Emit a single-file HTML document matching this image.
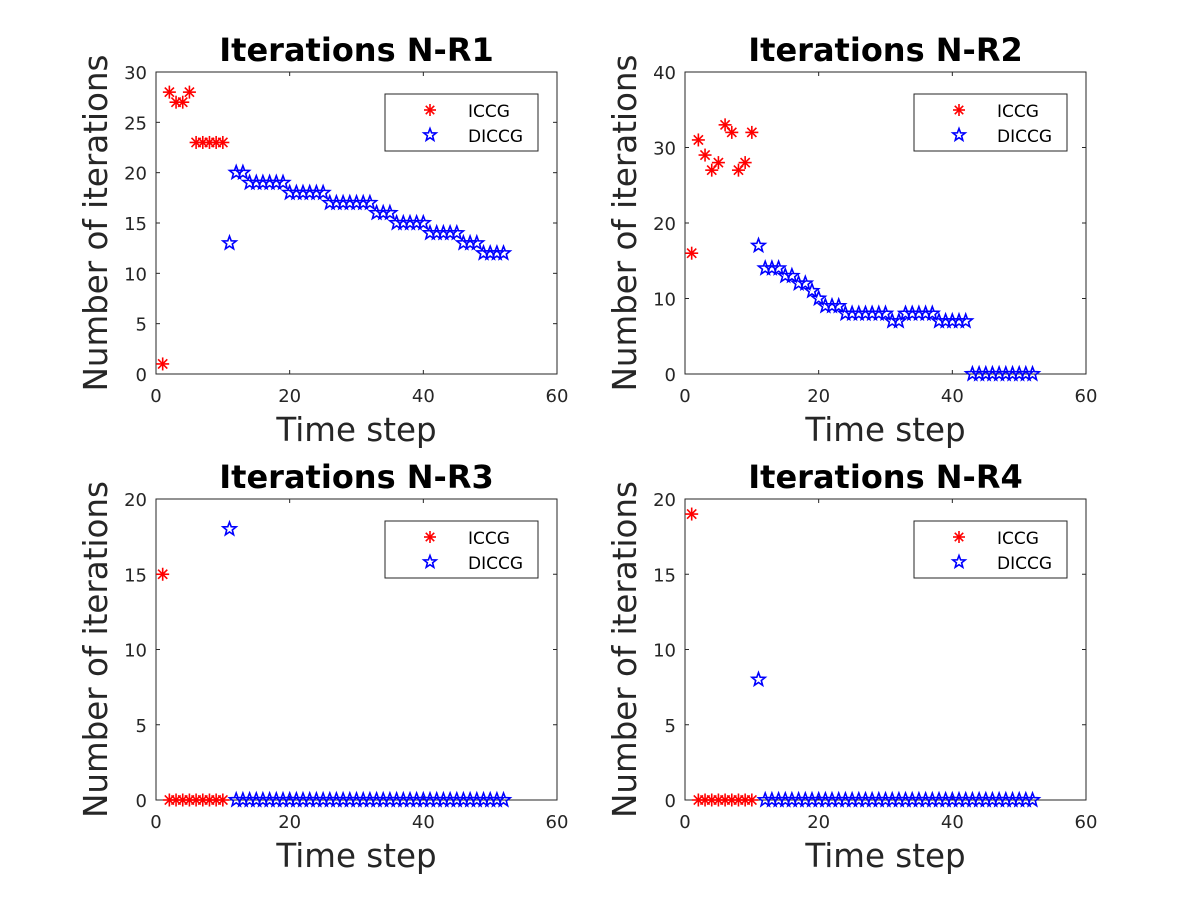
<!DOCTYPE html>
<html><head><meta charset="utf-8"><style>
body{margin:0;background:#fff}
svg{display:block;font-family:"DejaVu Sans","Liberation Sans",sans-serif}
</style></head><body>
<svg id="fig" width="1200" height="900" viewBox="0 0 1200 900"></svg>
<script>
const iccg1=[1,28,27,27,28,23,23,23,23,23];
const diccg1=[13,20,20,19,19,19,19,19,19,18,18,18,18,18,18,17,17,17,17,17,17,17,16,16,16,15,15,15,15,15,14,14,14,14,14,13,13,13,12,12,12,12];
const iccg2=[16,31,29,27,28,33,32,27,28,32];
const diccg2=[17,14,14,14,13,13,12,12,11,10,9,9,9,8,8,8,8,8,8,8,7,7,8,8,8,8,8,7,7,7,7,7,0,0,0,0,0,0,0,0,0,0];
const iccg3=[15,0,0,0,0,0,0,0,0,0];
const diccg3=[18,0,0,0,0,0,0,0,0,0,0,0,0,0,0,0,0,0,0,0,0,0,0,0,0,0,0,0,0,0,0,0,0,0,0,0,0,0,0,0,0,0];
const iccg4=[19,0,0,0,0,0,0,0,0,0];
const diccg4=[8,0,0,0,0,0,0,0,0,0,0,0,0,0,0,0,0,0,0,0,0,0,0,0,0,0,0,0,0,0,0,0,0,0,0,0,0,0,0,0,0,0];
const xTicks=[0,20,40,60];
const yTicks1=[0,5,10,15,20,25,30];
const yTicks2=[0,10,20,30,40];
const yTicks3=[0,5,10,15,20];
const titles=["Iterations N-R1","Iterations N-R2","Iterations N-R3","Iterations N-R4"];

const NS="http://www.w3.org/2000/svg";
const svg=document.getElementById('fig');
function mk(tag,attrs,parent){const e=document.createElementNS(NS,tag);for(const k in attrs)e.setAttribute(k,attrs[k]);(parent||svg).appendChild(e);return e;}
function star(cx,cy,r,g){let p=[];for(let i=0;i<10;i++){const a=-Math.PI/2+i*Math.PI/5;const rr=i%2?r*0.42:r;p.push((cx+rr*Math.cos(a)).toFixed(1)+','+(cy+rr*Math.sin(a)).toFixed(1));}
 const s=mk('polygon',{points:p.join(' '),fill:'none',stroke:'#0000ff','stroke-width':1.6},g);return s;}
function ast(cx,cy,r,g){const grp=mk('g',{stroke:'#ff0000','stroke-width':1.6},g);
 for(let i=0;i<4;i++){const a=i*Math.PI/4;mk('line',{x1:cx-r*Math.cos(a),y1:cy-r*Math.sin(a),x2:cx+r*Math.cos(a),y2:cy+r*Math.sin(a)},grp);}return grp;}

function panel(L,T,R,B,ymax,yt,iccg,diccg,title,idx){
 const g=mk('g',{});
 
 
 const xs=v=>L+(R-L)*v/60, ys=v=>B-(B-T)*v/ymax;
 mk('rect',{x:L,y:T,width:R-L,height:B-T,fill:'#fff',stroke:'#262626','stroke-width':1},g);
 xTicks.forEach(v=>{const x=xs(v);mk('line',{x1:x,y1:B,x2:x,y2:B-4,stroke:'#262626'},g);mk('line',{x1:x,y1:T,x2:x,y2:T+4,stroke:'#262626'},g);
  const t=mk('text',{x:x,y:B+28,'text-anchor':'middle','font-size':18,fill:'#262626'},g);t.textContent=v;
  });
 yt.forEach(v=>{const y=ys(v);mk('line',{x1:L,y1:y,x2:L+4,y2:y,stroke:'#262626'},g);mk('line',{x1:R,y1:y,x2:R-4,y2:y,stroke:'#262626'},g);
  const t=mk('text',{x:L-9,y:y+7,'text-anchor':'end','font-size':18,fill:'#262626'},g);t.textContent=v;
  });
 const tt=mk('text',{x:(L+R)/2,y:T-11,'text-anchor':'middle','font-size':32,'font-weight':'bold',fill:'#000'},g);tt.textContent=title;
 
 const xl=mk('text',{x:(L+R)/2,y:B+67,'text-anchor':'middle','font-size':32.5,fill:'#262626'},g);xl.textContent='Time step';
 
 const yl=mk('text',{x:0,y:0,'text-anchor':'middle','font-size':32.5,fill:'#262626',transform:`translate(${L-49},${(T+B)/2}) rotate(-90)`},g);yl.textContent='Number of iterations';
 
 iccg.forEach((v,i)=>{const m=ast(xs(i+1),ys(v),6.5,g);
  });
 diccg.forEach((v,i)=>{const m=star(xs(i+11),ys(v),7,g);
  });
 const lg=mk('g',{},g);
 
 const lx=R-172,ly=T+22;
 mk('rect',{x:lx,y:ly,width:153,height:57,fill:'#fff',stroke:'#262626'},lg);
 ast(lx+45,ly+16,6,lg);star(lx+45,ly+41,6.5,lg);
 const t1=mk('text',{x:lx+83,y:ly+23,'font-size':17,fill:'#000'},lg);t1.textContent='ICCG';
 
 const t2=mk('text',{x:lx+83,y:ly+48,'font-size':17,fill:'#000'},lg);t2.textContent='DICCG';
 
}
panel(156,72,557,374,30,yTicks1,iccg1,diccg1,titles[0],1);
panel(685,72,1086,374,40,yTicks2,iccg2,diccg2,titles[1],2);
panel(156,499,557,800,20,yTicks3,iccg3,diccg3,titles[2],3);
panel(685,499,1086,800,20,yTicks3,iccg4,diccg4,titles[3],4);
</script>
</body></html>
